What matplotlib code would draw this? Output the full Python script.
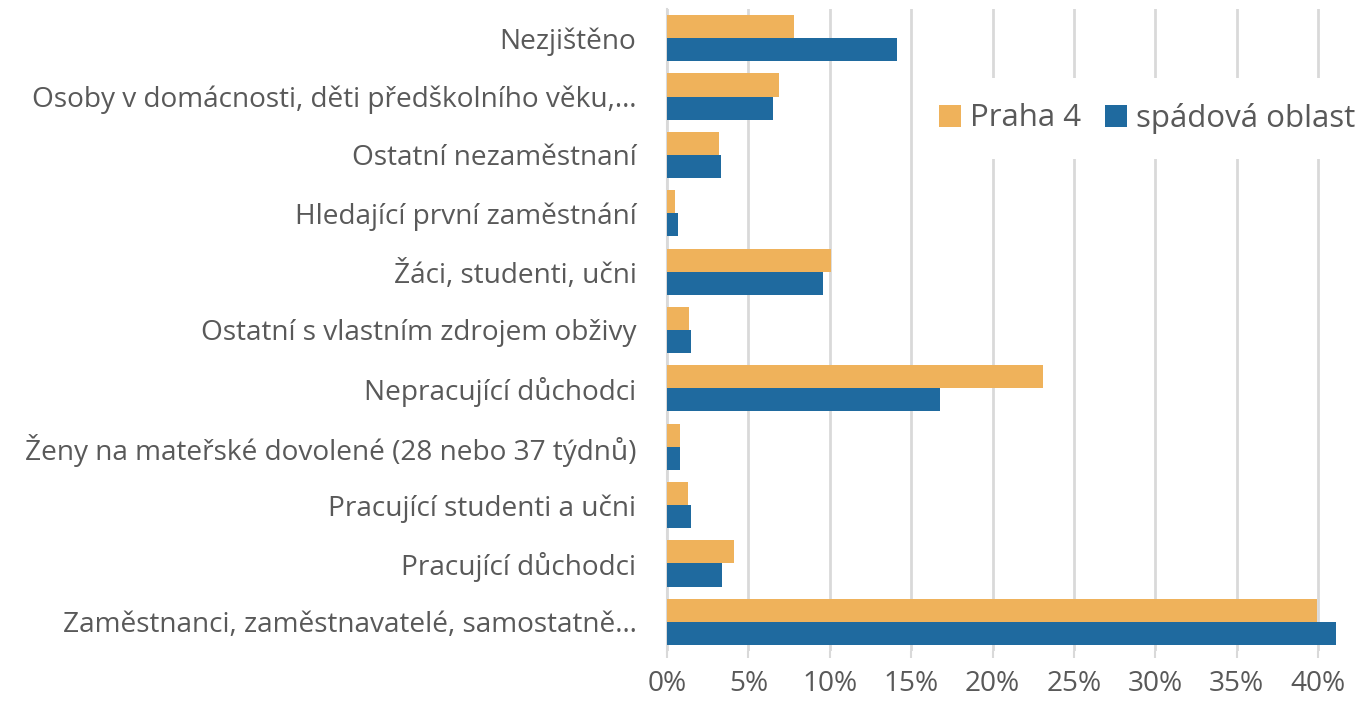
import matplotlib.pyplot as plt
import matplotlib
from matplotlib.ticker import FuncFormatter

font = {'size': 20.2, 'family': ['Open Sans', 'DejaVu Sans']}
matplotlib.rc('font', **font)

categories = [
    'Nezjištěno',
    'Osoby v domácnosti, děti předškolního věku,…',
    'Ostatní nezaměstnaní',
    'Hledající první zaměstnání',
    'Žáci, studenti, učni',
    'Ostatní s vlastním zdrojem obživy',
    'Nepracující důchodci',
    'Ženy na mateřské dovolené (28 nebo 37 týdnů)',
    'Pracující studenti a učni',
    'Pracující důchodci',
    'Zaměstnanci, zaměstnavatelé, samostatně…',
]
praha4 = [7.8, 6.9, 3.2, 0.5, 10.1, 1.35, 23.1, 0.8, 1.3, 4.1, 39.9]
spadova = [14.1, 6.5, 3.3, 0.7, 9.6, 1.45, 16.75, 0.8, 1.5, 3.35, 41.1]
xticks = [0, 5, 10, 15, 20, 25, 30, 35, 40]

orange = '#EFB25B'
blue = '#1F6A9F'
grey_text = '#595959'
grid_grey = '#D9D9D9'

fig = plt.figure(figsize=(13.61, 7.05), dpi=100)
ax = fig.add_axes([667 / 1361, 1 - 651 / 705, 1 - 667 / 1361, (651 - 9) / 705])

n = len(categories)
pos = list(range(n))
h = 0.395
ax.barh([p - h / 2 for p in pos], praha4, height=h, color=orange, label='Praha 4', zorder=3)
ax.barh([p + h / 2 for p in pos], spadova, height=h, color=blue, label='spádová oblast', zorder=3)

ax.set_ylim(n - 0.5, -0.5)
ax.set_xlim(0, (1361 - 667) / 16.28)
ax.set_yticks(pos)
ax.set_yticklabels(categories, color=grey_text)
ax.tick_params(axis='y', length=0, pad=22)

ax.set_xticks(xticks)
ax.xaxis.set_major_formatter(FuncFormatter(lambda v, _: '%d%%' % v))
ax.tick_params(axis='x', length=5, width=1.5, color=grid_grey, labelcolor=grey_text, pad=9)

ax.grid(axis='x', color=grid_grey, linewidth=2, zorder=0)
for s in ['top', 'right', 'bottom']:
    ax.spines[s].set_visible(False)
ax.spines['left'].set_color(grid_grey)
ax.spines['left'].set_linewidth(1.5)

# legend box runs a little past the right edge of the figure
leg = ax.legend(loc='center right', bbox_to_anchor=(1.028, (651 - 118) / 642), ncol=2,
                frameon=True, fancybox=False, edgecolor='none', framealpha=1,
                handlelength=0.7, handleheight=0.7, handletextpad=0.3,
                columnspacing=0.75, borderpad=0.8, borderaxespad=0.0, fontsize=22.5)
for t in leg.get_texts():
    t.set_color(grey_text)
leg.set_zorder(5)

fig.savefig('out.png', dpi=100)
